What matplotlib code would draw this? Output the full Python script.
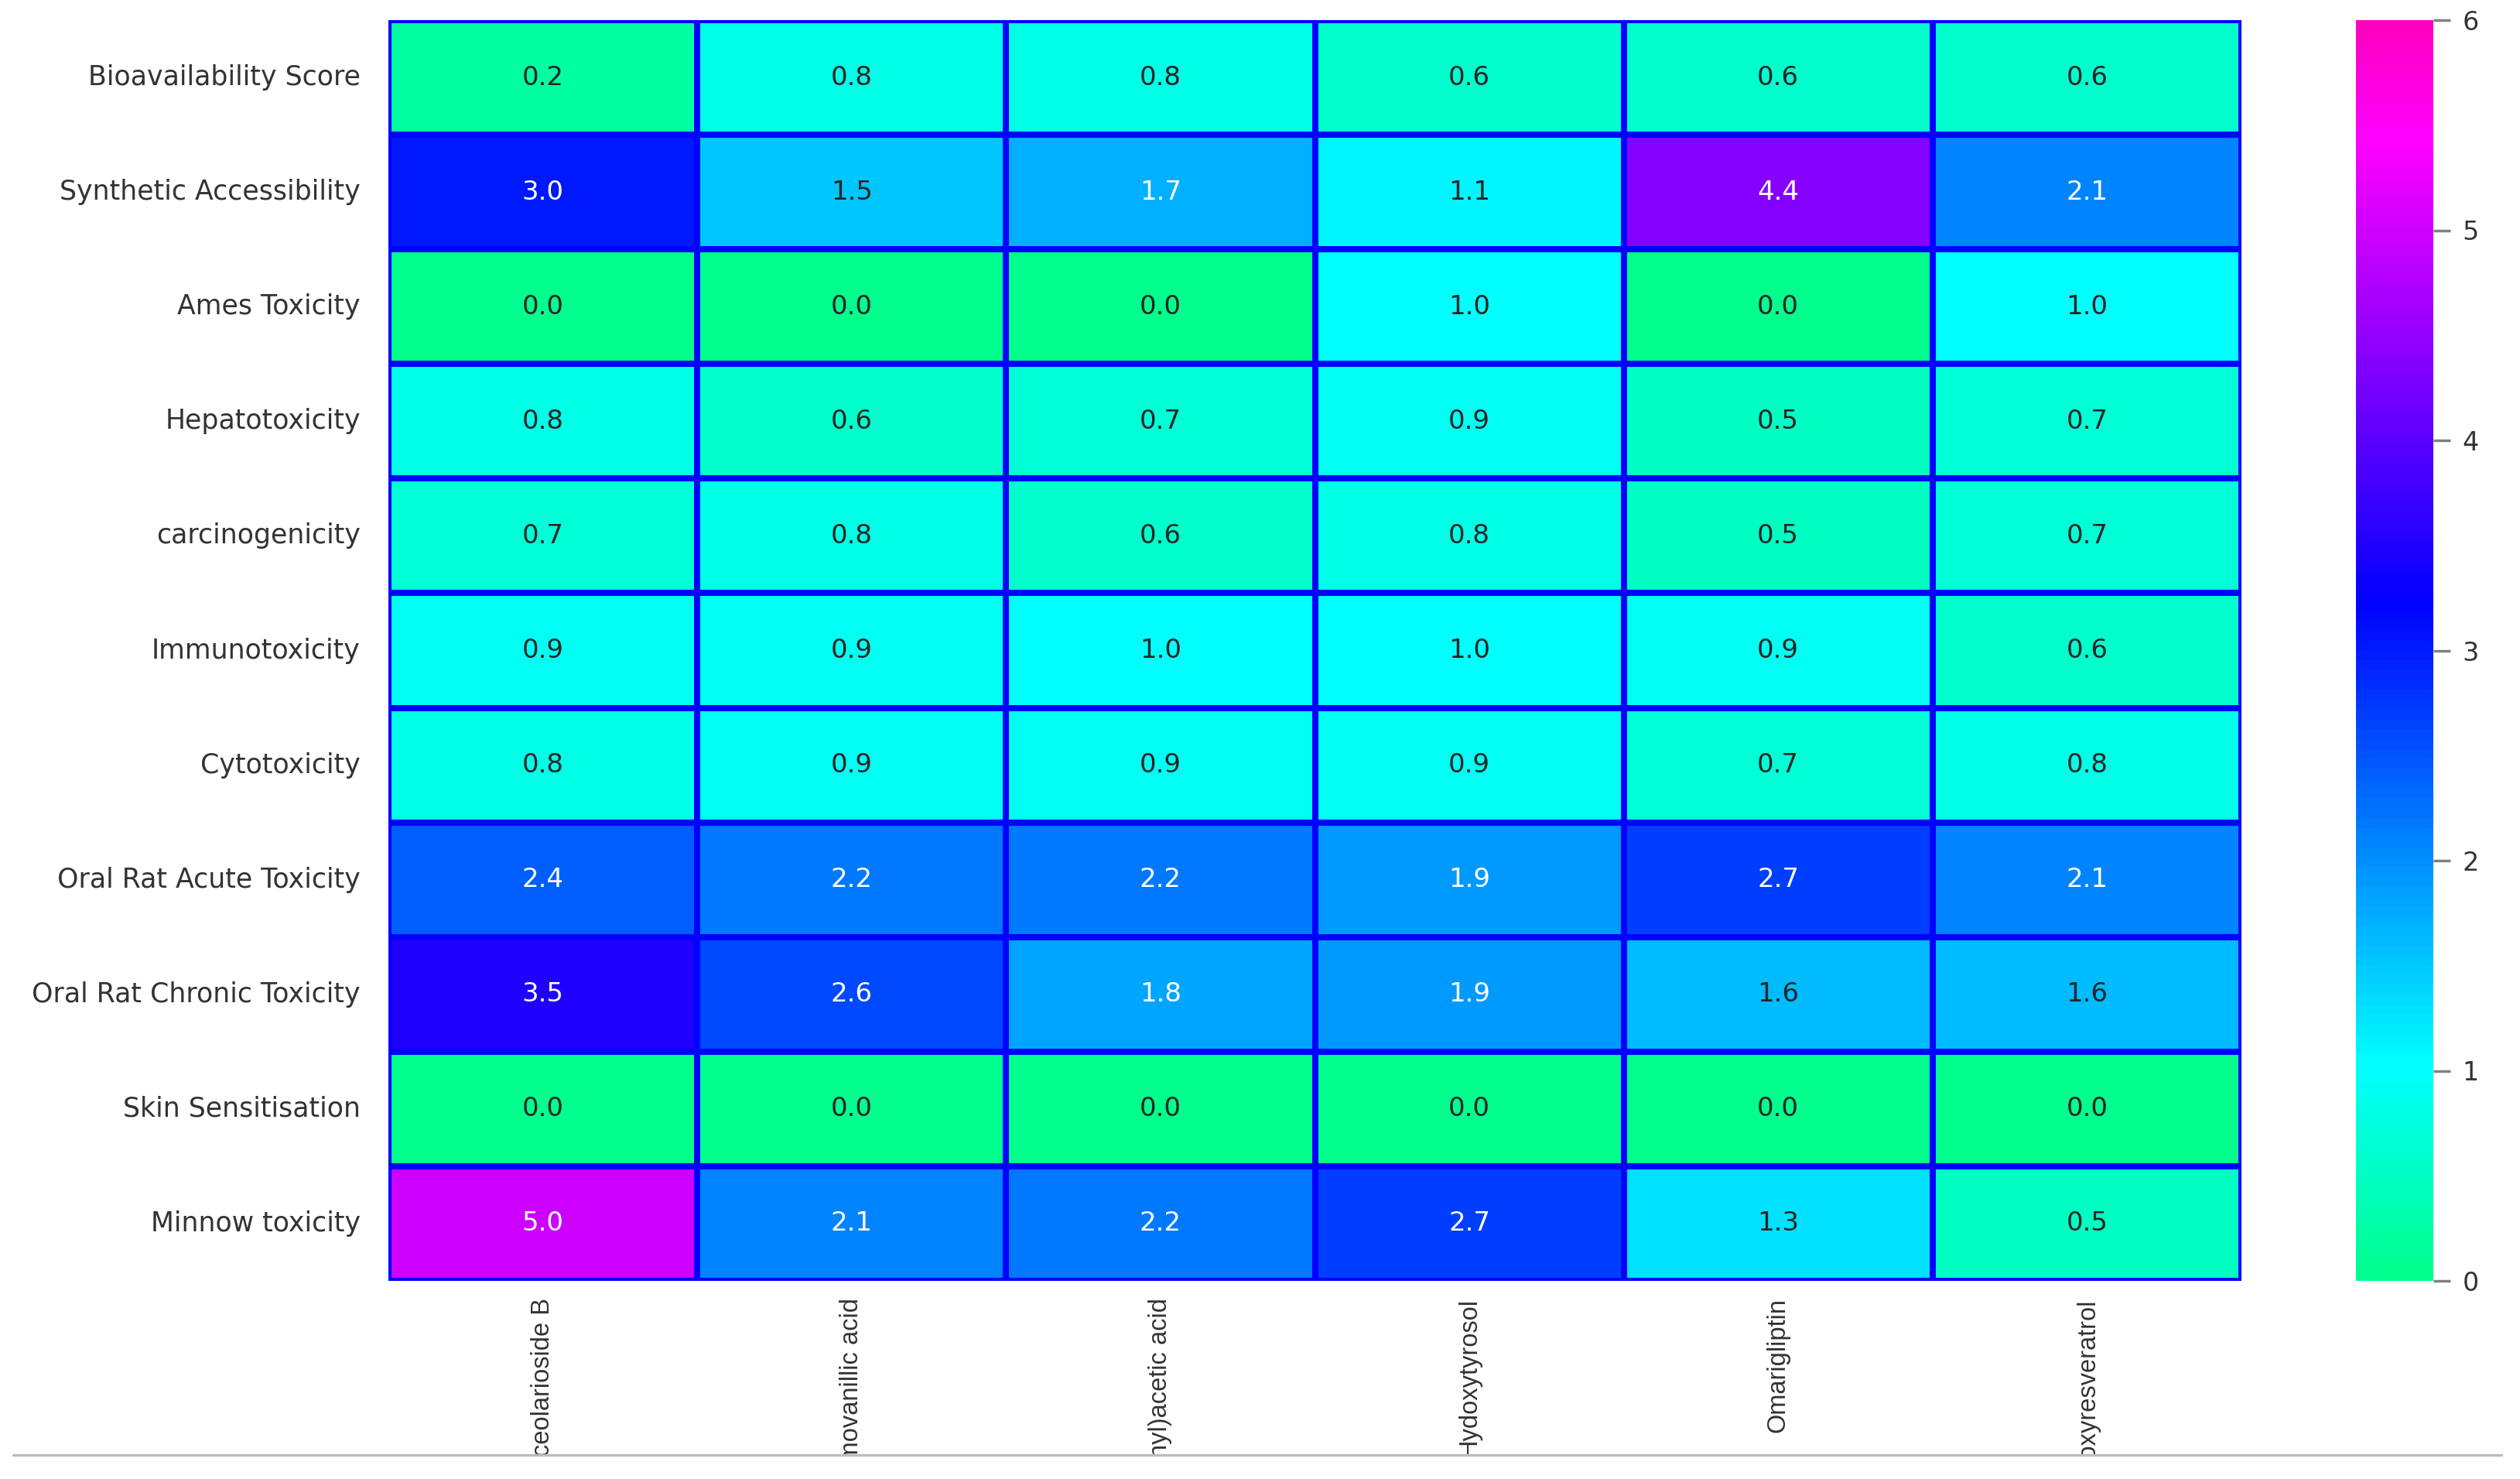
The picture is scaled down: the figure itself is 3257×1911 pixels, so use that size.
import numpy as np
import pandas as pd
import matplotlib
matplotlib.use("Agg")
import matplotlib.pyplot as plt
from matplotlib.lines import Line2D
from matplotlib.transforms import Bbox, TransformedBbox
import seaborn as sns

properties = ["Bioavailability Score", "Synthetic Accessibility", "Ames Toxicity",
              "Hepatotoxicity", "carcinogenicity", "Immunotoxicity", "Cytotoxicity",
              "Oral Rat Acute Toxicity", "Oral Rat Chronic Toxicity",
              "Skin Sensitisation", "Minnow toxicity"]
compounds = ["Calceolarioside B", "Homovanillic acid", "(3,4-Dihydroxyphenyl)acetic acid",
             "Hydoxytyrosol", "Omarigliptin", "Dihydrooxyresveratrol"]

bioavailability = [0.2, 0.8, 0.8, 0.6, 0.6, 0.6]
synthetic_access = [3.0, 1.5, 1.7, 1.1, 4.4, 2.1]
ames = [0.0, 0.0, 0.0, 1.0, 0.0, 1.0]
hepato = [0.8, 0.6, 0.7, 0.9, 0.5, 0.7]
carcino = [0.7, 0.8, 0.6, 0.8, 0.5, 0.7]
immuno = [0.9, 0.9, 1.0, 1.0, 0.9, 0.6]
cyto = [0.8, 0.9, 0.9, 0.9, 0.7, 0.8]
oral_acute = [2.4, 2.2, 2.2, 1.9, 2.7, 2.1]
oral_chronic = [3.5, 2.6, 1.8, 1.9, 1.6, 1.6]
skin = [0.0, 0.0, 0.0, 0.0, 0.0, 0.0]
minnow = [5.0, 2.1, 2.2, 2.7, 1.3, 0.5]

df = pd.DataFrame([bioavailability, synthetic_access, ames, hepato, carcino, immuno,
                   cyto, oral_acute, oral_chronic, skin, minnow],
                  index=properties, columns=compounds)

sns.set_style("white")
plt.rcParams['font.family'] = ['DejaVu Sans']

W, H = 3257, 1911
fig = plt.figure(figsize=(W / 100, H / 100), dpi=100)
left, right, top, bottom = 502, 2897, 26, 1655
ax = fig.add_axes([left / W, 1 - bottom / H, (right - left) / W, (bottom - top) / H])
cax = fig.add_axes([3045 / W, 1 - bottom / H, 100 / W, (bottom - top) / H])

sns.heatmap(df, ax=ax, cbar_ax=cax, cmap="gist_rainbow", center=0, vmin=0, vmax=6,
            annot=True, fmt=".1f", annot_kws={"fontsize": 24.5},
            linewidths=4.5, linecolor="#0000FF")

ax.tick_params(axis='y', length=0, pad=26, labelsize=25, labelcolor='#333333')
ax.tick_params(axis='x', length=0, pad=16, labelsize=23.5, labelcolor='#333333')
plt.setp(ax.get_yticklabels(), rotation=0)
plt.setp(ax.get_xticklabels(), rotation=90, family=['Liberation Sans', 'DejaVu Sans'])

line_y = 1 - 1880 / H
clip = TransformedBbox(Bbox([[0, line_y], [1, 1]]), fig.transFigure)
for t in ax.get_xticklabels():
    t.set_clip_on(True)
    t.set_clip_box(clip)

cax.tick_params(length=16, width=2.5, color='#808080', labelsize=24,
                labelcolor='#333333', pad=11)
cax.set_yticks([0, 1, 2, 3, 4, 5, 6])

fig.add_artist(Line2D([17 / W, 3233 / W], [line_y, line_y], transform=fig.transFigure,
                      color='#bdbdbd', lw=2.5))

fig.savefig("out.png", dpi=100, facecolor='white')
